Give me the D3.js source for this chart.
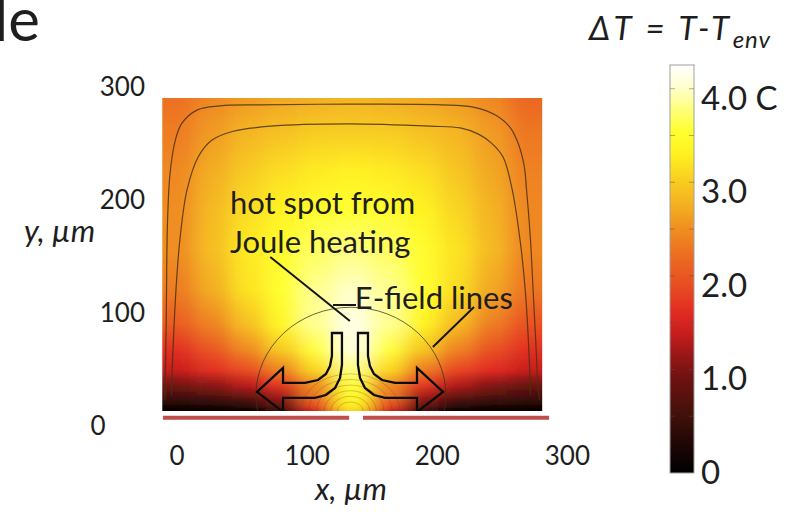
<!DOCTYPE html>
<html>
<head>
<meta charset="utf-8">
<script src="https://cdn.jsdelivr.net/npm/d3@7"></script>
<style>
  html, body { margin: 0; padding: 0; background: #fff; }
  svg { display: block; }
  text { font-family: Lato, "Open Sans", sans-serif; fill: #1e1e1e; }
</style>
</head>
<body>
<div id="chart"></div>
<script>
// temperature rise field (deg C above ambient)
const fieldX = [2, 29, 55, 82, 108, 135, 162, 188, 215, 241, 268];            // column centres, um
const fieldY = [290.5, 262, 227, 191, 156, 120, 89, 67, 49, 36, 25, 17.5, 13]; // rows, um (top -> bottom)
const fieldT = [
  [2.35, 2.55, 2.7, 2.8, 2.85, 2.9, 2.85, 2.8, 2.7, 2.55, 2.25],
  [2.45, 2.7, 2.9, 3.0, 3.1, 3.1, 3.1, 3.0, 2.9, 2.7, 2.4],
  [2.55, 2.85, 3.1, 3.25, 3.35, 3.4, 3.35, 3.25, 3.05, 2.8, 2.5],
  [2.6, 2.95, 3.25, 3.45, 3.6, 3.65, 3.6, 3.45, 3.2, 2.9, 2.55],
  [2.6, 3.0, 3.35, 3.6, 3.8, 3.9, 3.8, 3.6, 3.3, 2.95, 2.55],
  [2.45, 2.85, 3.3, 3.65, 3.95, 4.1, 3.95, 3.65, 3.25, 2.8, 2.4],
  [2.15, 2.5, 3.0, 3.5, 3.95, 4.25, 3.95, 3.45, 2.95, 2.45, 2.05],
  [1.75, 2.1, 2.55, 3.1, 3.7, 4.2, 3.7, 3.05, 2.5, 2.05, 1.75],
  [1.5, 1.75, 2.0, 2.5, 3.2, 3.9, 3.2, 2.45, 1.95, 1.7, 1.5],
  [1.05, 1.2, 1.45, 1.85, 2.6, 3.7, 2.6, 1.85, 1.4, 1.15, 1.0],
  [0.6, 0.7, 0.9, 1.3, 2.4, 3.6, 2.4, 1.3, 0.9, 0.7, 0.6],
  [0.25, 0.3, 0.4, 0.9, 2.0, 3.4, 2.0, 0.9, 0.4, 0.3, 0.25],
  [0.05, 0.05, 0.1, 0.6, 1.6, 3.2, 1.6, 0.6, 0.1, 0.05, 0.05]
];
const fieldXRange = [-11, 281];
const fieldYRange = [13, 290.5];

// colour map of the bar
const cmapT = [0, 0.3, 0.6, 1.0, 1.25, 1.5, 1.7, 2.0, 2.35, 2.65, 2.9, 3.15, 3.4, 3.65, 3.9, 4.1, 4.36];
const cmapC = ["#000000", "#1e0605", "#40100a", "#6c1210", "#961616", "#c81e1c", "#e02a22", "#e84c22",
  "#ec7020", "#f09420", "#f4b420", "#f8d020", "#fff020", "#ffff30", "#ffff80", "#ffffc8", "#ffffff"];

// two isolines near the top, [x, y] in um
const isoOuter = [[-9, 23], [-8, 91], [-7, 180], [-5, 224], [-1, 253], [4, 268], [16, 280], [33, 283.5],
  [64, 284.5], [133, 285], [203, 284.5], [228, 282.5], [245, 275.5], [256, 265], [262, 252], [267, 231.5],
  [269, 209], [272, 165], [274, 120.5], [276, 76], [278, 31.5], [279, 23]];
const isoInner = [[-4, 27], [-3, 61], [-0.5, 120], [2.5, 164.5], [8, 209], [16.5, 238], [27, 253], [43.5, 261],
  [72, 265.5], [133, 267.5], [195, 265.5], [218, 264], [232, 258.5], [242, 250.5], [251, 238], [258, 209],
  [264, 164.5], [268, 120], [271, 61], [272, 27]];

// electrode pipes / arrows, outline points in um
const pipeLeft = [[119.4, 82.2], [127.1, 82.2], [127.1, 53.8], [125.6, 42.3], [121.8, 33.4], [114.8, 27.2],
  [106.4, 24.6], [81.8, 24.6], [81.8, 12.2], [61.8, 29.9], [81.8, 51.2], [81.8, 37.9], [98.7, 37.9],
  [108.7, 40.5], [114.8, 45.8], [117.9, 52.9], [119.4, 61.8]];
const pipeRight = [[147.1, 82.2], [139.4, 82.2], [139.4, 53.8], [141.0, 42.3], [144.8, 33.4], [151.7, 27.2],
  [160.2, 24.6], [184.8, 24.6], [184.8, 12.2], [204.8, 29.9], [184.8, 51.2], [184.8, 37.9], [167.9, 37.9],
  [157.9, 40.5], [151.7, 45.8], [148.6, 52.9], [147.1, 61.8]];

// E-field lines: big half loop and small loops at the gap (centre, radii in um)
const bigLoop = { cx: 134, cy: 27, rx: 73, ry: 78 };
const gapCentre = [133.5, 13];
const loopRx = [10, 15, 20, 26, 32, 38];
const loopRy = [8, 13, 18, 23, 28, 33];

// bottom electrodes (red bars), um
const bars = [[-10.5, 132.6], [143.3, 286.3]];
const barY = 7;

// notes and leader lines, um
const notes = [
  { text: "hot spot from", x: 41, y: 187.5 },
  { text: "Joule heating", x: 41, y: 153 },
  { text: "E-field lines", x: 137, y: 103.5 }
];
const leaders = [
  [[72, 149.6], [133.2, 92.8]],
  [[228.6, 105.2], [197, 69.8]],
  [[120.2, 107], [137.9, 107]]
];

const xTicks = [0, 100, 200, 300];
const yTicks = [0, 100, 200, 300];
const cbTicks = [0, 1, 2, 3, 4];
const cbMinor = [0.5, 1, 1.5, 2, 2.5, 3, 3.5, 4];

const W = 796, H = 512;
const svg = d3.select("#chart").append("svg").attr("width", W).attr("height", H);
const defs = svg.append("defs");

const x = d3.scaleLinear().domain([0, 300]).range([176.6, 566.9]);
const y = d3.scaleLinear().domain([0, 300]).range([425.7, 87.3]);
const color = d3.scaleLinear().domain(cmapT).range(cmapC).clamp(true);

// plot clip
defs.append("clipPath").attr("id", "plotclip").append("rect")
  .attr("x", x(fieldXRange[0])).attr("y", y(fieldYRange[1]))
  .attr("width", x(fieldXRange[1]) - x(fieldXRange[0]))
  .attr("height", y(fieldYRange[0]) - y(fieldYRange[1]));

defs.append("filter").attr("id", "smear")
  .attr("x", -0.2).attr("y", -0.2).attr("width", 1.4).attr("height", 1.4)
  .append("feGaussianBlur").attr("stdDeviation", "10 0");

// column strips with vertical gradients
const yTop = y(fieldY[0]), yBot = y(fieldY[fieldY.length - 1]);
fieldX.forEach((fx, i) => {
  const g = defs.append("linearGradient").attr("id", "col" + i)
    .attr("gradientUnits", "userSpaceOnUse")
    .attr("x1", 0).attr("x2", 0).attr("y1", yTop).attr("y2", yBot);
  fieldY.forEach((fy, j) => {
    g.append("stop").attr("offset", (y(fy) - yTop) / (yBot - yTop)).attr("stop-color", color(fieldT[j][i]));
  });
});

const heat = svg.append("g").attr("clip-path", "url(#plotclip)");
heat.append("g").attr("filter", "url(#smear)")
  .selectAll("rect").data(fieldX).join("rect")
  .attr("x", (d, i) => i === 0 ? x(fieldXRange[0]) - 45 : (x(fieldX[i - 1]) + x(d)) / 2)
  .attr("width", (d, i) => {
    const l = i === 0 ? x(fieldXRange[0]) - 45 : (x(fieldX[i - 1]) + x(d)) / 2;
    const r = i === fieldX.length - 1 ? x(fieldXRange[1]) + 45 : (x(d) + x(fieldX[i + 1])) / 2;
    return r - l;
  })
  .attr("y", yTop - 5).attr("height", yBot - yTop + 10)
  .attr("fill", (d, i) => `url(#col${i})`);

const line = d3.line().x(d => x(d[0])).y(d => y(d[1]));

// isolines
heat.selectAll("path.iso").data([isoOuter, isoInner]).join("path")
  .attr("class", "iso")
  .attr("d", line.curve(d3.curveCatmullRom))
  .attr("fill", "none").attr("stroke", "#4a3212").attr("stroke-width", 1.2).attr("stroke-opacity", 0.85);

// E-field lines
heat.append("ellipse")
  .attr("cx", x(bigLoop.cx)).attr("cy", y(bigLoop.cy))
  .attr("rx", x(bigLoop.cx + bigLoop.rx) - x(bigLoop.cx))
  .attr("ry", y(bigLoop.cy) - y(bigLoop.cy + bigLoop.ry))
  .attr("fill", "none").attr("stroke", "#3a3418").attr("stroke-width", 1).attr("stroke-opacity", 0.75);

heat.selectAll("ellipse.loop").data(loopRx).join("ellipse")
  .attr("class", "loop")
  .attr("cx", x(gapCentre[0])).attr("cy", y(gapCentre[1]))
  .attr("rx", d => x(gapCentre[0] + d) - x(gapCentre[0]))
  .attr("ry", (d, i) => y(gapCentre[1]) - y(gapCentre[1] + loopRy[i]))
  .attr("fill", "none").attr("stroke", "#5a4a14").attr("stroke-width", 0.8).attr("stroke-opacity", 0.35);

// pipes / arrows
heat.selectAll("path.pipe").data([pipeLeft, pipeRight]).join("path")
  .attr("class", "pipe")
  .attr("d", d => line.curve(d3.curveLinear)(d) + "Z")
  .attr("fill", "none").attr("stroke", "#0c0c0c").attr("stroke-width", 2.3).attr("stroke-linejoin", "miter");

// leader lines
svg.selectAll("path.leader").data(leaders).join("path")
  .attr("class", "leader")
  .attr("d", line.curve(d3.curveLinear))
  .attr("stroke", "#161616").attr("stroke-width", 2).attr("fill", "none");

svg.selectAll("text.note").data(notes).join("text")
  .attr("class", "note")
  .attr("x", d => x(d.x)).attr("y", d => y(d.y))
  .attr("font-size", 31).text(d => d.text);

// red electrode bars
svg.selectAll("line.bar").data(bars).join("line")
  .attr("class", "bar")
  .attr("x1", d => x(d[0])).attr("x2", d => x(d[1]))
  .attr("y1", y(barY)).attr("y2", y(barY))
  .attr("stroke", "#bf4d4a").attr("stroke-width", 4);

// axes (labels only)
const xAxis = svg.append("g").attr("transform", "translate(0,447)")
  .call(d3.axisBottom(x).tickValues(xTicks).tickSize(0).tickPadding(0));
xAxis.select(".domain").remove();
xAxis.selectAll("text").attr("font-size", 26).attr("font-family", "Lato").attr("fill", "#222");

const yAxis = svg.append("g").attr("transform", "translate(145,0)")
  .call(d3.axisLeft(y).tickValues(yTicks).tickSize(0).tickPadding(0));
yAxis.select(".domain").remove();
yAxis.selectAll("text").attr("font-size", 26).attr("font-family", "Lato").attr("fill", "#222");
yAxis.selectAll(".tick").filter(d => d === 0).select("text").attr("x", -47).attr("text-anchor", "middle");

svg.append("text").attr("x", 24).attr("y", 242).attr("font-size", 31).attr("font-style", "italic")
  .text("y, \u00b5m");
svg.append("text").attr("x", 351).attr("y", 500).attr("font-size", 31).attr("font-style", "italic")
  .attr("text-anchor", "middle").text("x, \u00b5m");

// colour bar
const cb = d3.scaleLinear().domain([0, 4.36]).range([473, 65]);
const cbGrad = defs.append("linearGradient").attr("id", "cbgrad")
  .attr("x1", 0).attr("x2", 0).attr("y1", 1).attr("y2", 0);
cmapT.forEach((t, i) => cbGrad.append("stop").attr("offset", t / 4.36).attr("stop-color", cmapC[i]));

svg.append("rect").attr("x", 670).attr("y", cb(4.36)).attr("width", 24).attr("height", cb(0) - cb(4.36))
  .attr("fill", "url(#cbgrad)").attr("stroke", "#a0a0a0").attr("stroke-width", 1);

svg.selectAll("line.cbminor").data(cbMinor.flatMap(v => [[v, 670], [v, 689]])).join("line")
  .attr("class", "cbminor")
  .attr("x1", d => d[1]).attr("x2", d => d[1] + 5)
  .attr("y1", d => cb(d[0]) - 10).attr("y2", d => cb(d[0]) - 10)
  .attr("stroke", "#555").attr("stroke-opacity", 0.45).attr("stroke-width", 1);

const cbAxis = svg.append("g").attr("transform", "translate(694,0)")
  .call(d3.axisRight(cb).tickValues(cbTicks).tickSize(0).tickPadding(7)
    .tickFormat(d => d === 0 ? "0" : d === 4 ? "4.0 C" : d.toFixed(1)));
cbAxis.select(".domain").remove();
cbAxis.selectAll("text").attr("font-size", 33).attr("font-family", "Lato").attr("fill", "#222");

const title = svg.append("text").attr("x", 589).attr("y", 40).attr("font-size", 33)
  .attr("font-style", "italic").attr("letter-spacing", 3.5);
title.append("tspan").text("\u0394T = T-T");
title.append("tspan").attr("dy", 8).attr("font-size", 24).attr("letter-spacing", 1).text("env");

// cropped caption fragments from the source page
svg.append("text").attr("x", -6).attr("y", 41).attr("font-size", 60)
  .attr("font-family", "'Liberation Sans', Arial, sans-serif").attr("fill", "#000").text("le");
svg.append("text").attr("x", -14).attr("y", 544).attr("font-size", 60)
  .attr("font-family", "'Liberation Sans', Arial, sans-serif").attr("fill", "#000").text("ss");
</script>
</body>
</html>
